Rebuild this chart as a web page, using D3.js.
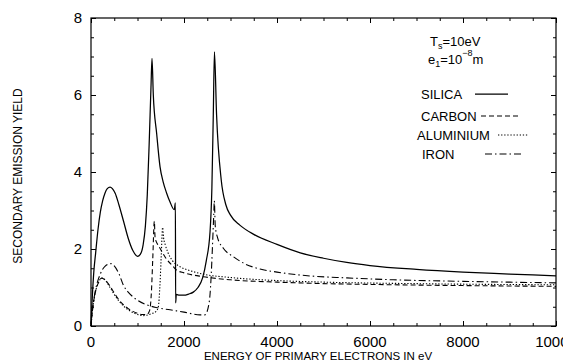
<!DOCTYPE html>
<html><head><meta charset="utf-8">
<script src="https://cdn.jsdelivr.net/npm/d3@7"></script>
<style>
html,body{margin:0;padding:0;background:#fff;}
svg{display:block;font-family:"Liberation Sans",Arial,Helvetica,sans-serif;}
</style></head>
<body><svg id="c" width="563" height="362"></svg>
<script>
// ---- data (energy in eV, secondary emission yield) ----
const xTicks = [0, 2000, 4000, 6000, 8000, 10000];
const yTicks = [0, 2, 4, 6, 8];
const seriesNames = ["SILICA", "CARBON", "ALUMINIUM", "IRON"];

const silica = [[0,0.05],[30,0.8],[60,1.4],[100,1.9],[150,2.5],[200,2.95],[250,3.25],[300,3.45],[350,3.57],[410,3.61],[460,3.57],[520,3.45],[600,3.15],[700,2.72],[800,2.28],[900,1.96],[1000,1.81],[1060,1.86],[1120,2.1],[1170,2.6],[1210,3.4],[1250,4.7],[1290,6.2],[1312,6.95],[1340,6.0],[1412,5.0],[1484,4.14],[1550,3.75],[1627,3.45],[1700,3.22],[1790,3.02],[1815,3.2],[1820,0.6],[1835,0.82],[1900,0.8],[2000,0.8],[2100,0.83],[2200,0.88],[2300,1.0],[2400,1.25],[2480,1.7],[2560,2.45],[2600,3.6],[2630,5.5],[2655,7.12],[2700,5.5],[2800,3.8],[2900,3.15],[3000,2.88],[3200,2.62],[3500,2.38],[4000,2.12],[4500,1.9],[5000,1.76],[5500,1.65],[6000,1.57],[7000,1.47],[8000,1.4],[9000,1.35],[10000,1.3]];

const carbon = [[0,0],[30,0.4],[80,0.8],[150,1.1],[229,1.24],[300,1.2],[400,1.05],[500,0.86],[600,0.68],[700,0.55],[800,0.45],[900,0.38],[1000,0.33],[1100,0.3],[1200,0.3],[1260,0.4],[1300,0.9],[1330,1.8],[1362,2.72],[1378,2.3],[1420,2.15],[1484,2.02],[1600,1.78],[1771,1.54],[1843,1.45],[2000,1.38],[2416,1.28],[3000,1.2],[4000,1.14],[4710,1.11],[6000,1.08],[8000,1.05],[10000,1.03]];

const aluminium = [[0,0],[30,0.4],[80,0.8],[150,1.1],[240,1.25],[300,1.2],[400,1.02],[500,0.82],[600,0.65],[700,0.52],[800,0.42],[900,0.35],[1000,0.3],[1100,0.27],[1200,0.28],[1300,0.32],[1400,0.38],[1448,0.5],[1480,1.0],[1510,1.8],[1540,2.56],[1560,2.3],[1600,2.1],[1650,1.92],[1750,1.7],[1900,1.55],[2100,1.45],[2400,1.35],[3000,1.26],[4000,1.18],[5000,1.14],[7000,1.1],[10000,1.07]];

const iron = [[0,0],[40,0.5],[100,0.95],[200,1.35],[300,1.55],[430,1.62],[500,1.56],[600,1.36],[700,1.05],[800,0.88],[900,0.76],[1000,0.67],[1200,0.55],[1400,0.48],[1700,0.42],[2000,0.36],[2344,0.29],[2450,0.29],[2540,0.6],[2580,1.2],[2610,2.0],[2640,2.9],[2652,3.25],[2672,2.6],[2720,2.3],[2846,2.02],[3061,1.8],[3300,1.62],[3634,1.48],[4000,1.4],[4710,1.3],[5500,1.25],[6500,1.2],[8000,1.16],[10000,1.12]];

// ---- layout ----
const svg = d3.select("#c");
const L = 91, R = 556, T = 18, B = 326;
const x = d3.scaleLinear().domain([0, 10000]).range([L, R]);
const y = d3.scaleLinear().domain([0, 8]).range([B, T]);

const styles = {
  SILICA:    {data: silica,    dash: null,          w: 1.25},
  CARBON:    {data: carbon,    dash: "5,3",         w: 1.1},
  ALUMINIUM: {data: aluminium, dash: "1.3,1.8",     w: 1.1},
  IRON:      {data: iron,      dash: "7,3,1.5,3",   w: 1.1}
};

// frame
svg.append("rect").attr("x", L).attr("y", T).attr("width", R - L).attr("height", B - T)
  .attr("fill", "none").attr("stroke", "#000").attr("stroke-width", 1.2);

const minorX = d3.range(0, 10001, 500);
const minorY = d3.range(0, 8.01, 0.5);
function isMajorX(v){ return v % 2000 === 0; }
function isMajorY(v){ return v % 2 === 0; }

// axes (ticks inward)
const gB = svg.append("g").attr("transform", `translate(0,${B})`)
  .call(d3.axisBottom(x).tickValues(minorX).tickSize(0).tickFormat(""));
gB.select(".domain").remove();
gB.selectAll(".tick line").attr("y2", d => isMajorX(d) ? -5 : -3);
const gT = svg.append("g").attr("transform", `translate(0,${T})`)
  .call(d3.axisTop(x).tickValues(minorX).tickSize(0).tickFormat(""));
gT.select(".domain").remove();
gT.selectAll(".tick line").attr("y2", d => isMajorX(d) ? 5 : 3);
const gL = svg.append("g").attr("transform", `translate(${L},0)`)
  .call(d3.axisLeft(y).tickValues(minorY).tickSize(0).tickFormat(""));
gL.select(".domain").remove();
gL.selectAll(".tick line").attr("x2", d => isMajorY(d) ? 5 : 3);
const gR = svg.append("g").attr("transform", `translate(${R},0)`)
  .call(d3.axisRight(y).tickValues(minorY).tickSize(0).tickFormat(""));
gR.select(".domain").remove();
gR.selectAll(".tick line").attr("x2", d => isMajorY(d) ? -5 : -3);
svg.selectAll(".tick line").attr("stroke", "#000").attr("stroke-width", 1);

// tick labels
svg.append("g").selectAll("text").data(xTicks).join("text")
  .attr("x", d => x(d)).attr("y", 347).attr("text-anchor", "middle")
  .attr("font-size", 15).attr("fill", "#000").text(d => d);
svg.append("g").selectAll("text").data(yTicks).join("text")
  .attr("x", 82).attr("y", d => y(d) + 5).attr("text-anchor", "end")
  .attr("font-size", 15).attr("fill", "#000").text(d => d);

// axis titles
svg.append("text").attr("x", 318).attr("y", 360).attr("text-anchor", "middle")
  .attr("font-size", 11.5).attr("fill", "#000").text("ENERGY OF PRIMARY ELECTRONS IN eV");
svg.append("text").attr("transform", "translate(22,176) rotate(-90)").attr("text-anchor", "middle")
  .attr("font-size", 12).attr("fill", "#000").text("SECONDARY EMISSION YIELD");

// curves
const line = d3.line().x(d => x(d[0])).y(d => y(d[1])).curve(d3.curveMonotoneX);
const plot = svg.append("g");
seriesNames.forEach(n => {
  const s = styles[n];
  plot.append("path").datum(s.data).attr("d", line)
    .attr("fill", "none").attr("stroke", "#000").attr("stroke-width", s.w)
    .attr("stroke-dasharray", s.dash);
});

// annotations
const a1 = svg.append("text").attr("x", 430).attr("y", 46).attr("font-size", 13).attr("fill", "#000");
a1.append("tspan").text("T");
a1.append("tspan").attr("font-size", 9).attr("dy", 3).text("s");
a1.append("tspan").attr("dy", -3).text("=10eV");
const a2 = svg.append("text").attr("x", 428).attr("y", 64).attr("font-size", 13).attr("fill", "#000");
a2.append("tspan").text("e");
a2.append("tspan").attr("font-size", 9).attr("dy", 3).text("1");
a2.append("tspan").attr("dy", -3).text("=10");
a2.append("tspan").attr("font-size", 9).attr("dy", -8).text("−8");
a2.append("tspan").attr("dy", 8).text("m");

// legend
const legendPos = {
  SILICA:    {tx: 421, ty: 94,  x1: 475, x2: 508},
  CARBON:    {tx: 421, ty: 116, x1: 481, x2: 520},
  ALUMINIUM: {tx: 417, ty: 135, x1: 498, x2: 528},
  IRON:      {tx: 422, ty: 154, x1: 485, x2: 522}
};
seriesNames.forEach(n => {
  const p = legendPos[n], s = styles[n];
  svg.append("text").attr("x", p.tx).attr("y", p.ty + 5).attr("font-size", 13)
    .attr("fill", "#000").text(n);
  svg.append("line").attr("x1", p.x1).attr("x2", p.x2).attr("y1", p.ty).attr("y2", p.ty)
    .attr("stroke", "#000").attr("stroke-width", s.w).attr("stroke-dasharray", s.dash);
});
</script></body></html>
